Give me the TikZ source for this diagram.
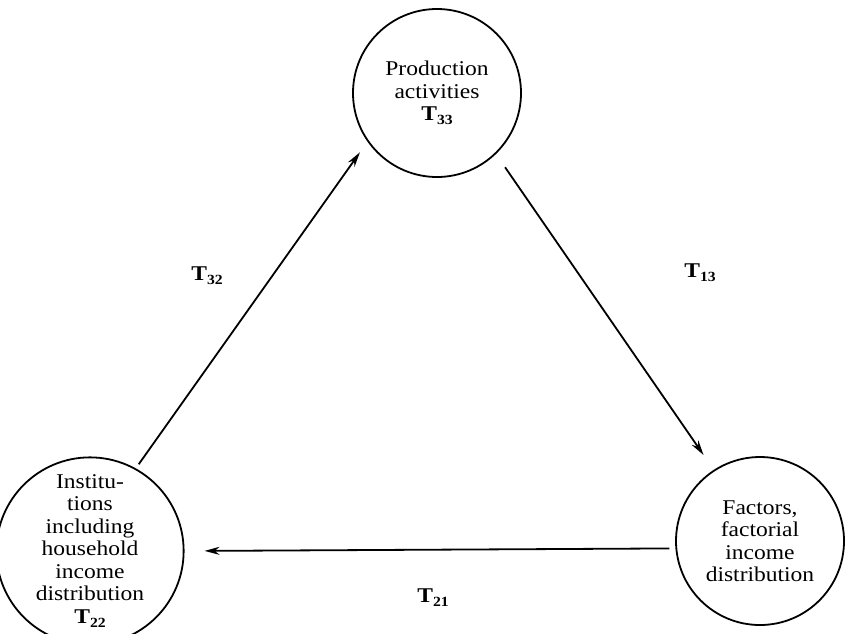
\documentclass[tikz,border=0pt]{standalone}
\usepackage{fontspec}
\setmainfont[FakeStretch=1.12]{Liberation Serif}
\usetikzlibrary{arrows.meta}
\newcommand{\tsub}[1]{\textbf{T}\raisebox{-4pt}{\fontsize{14}{14}\selectfont\bfseries #1}}
\begin{document}
\begin{tikzpicture}[x=1pt,y=-1pt,
  sector/.style={circle,draw,line width=1.8pt,inner sep=0pt,minimum size=168pt,
    align=center,font=\fontsize{21}{22.5}\selectfont},
  flow/.style={line width=1.8pt,-{Stealth[length=15pt,width=8pt]}},
  tlabel/.style={font=\fontsize{21}{22}\selectfont}]
\useasboundingbox (0,0) rectangle (845,633);
\node[sector] (t) at (437,93) {Production\\activities\\\tsub{33}};
\node[sector] (l) at (90,551) {Institu-\\tions\\including\\household\\income\\distribution\\\tsub{22}};
\node[sector] (r) at (760,541) {Factors,\\factorial\\income\\distribution};
\draw[flow,shorten <=5pt,shorten >=13pt] (l.61) -- (t.215);
\draw[flow,shorten <=16pt,shorten >=18pt] (t.-46) -- (r.123);
\draw[flow,shorten <=6pt,shorten >=20pt] (r.185) -- (l.0);
\node[tlabel] (a) at (207,276) {\tsub{32}};
\node[tlabel] (b) at (700,273) {\tsub{13}};
\node[tlabel] (c) at (433,598) {\tsub{21}};
\end{tikzpicture}
\end{document}
